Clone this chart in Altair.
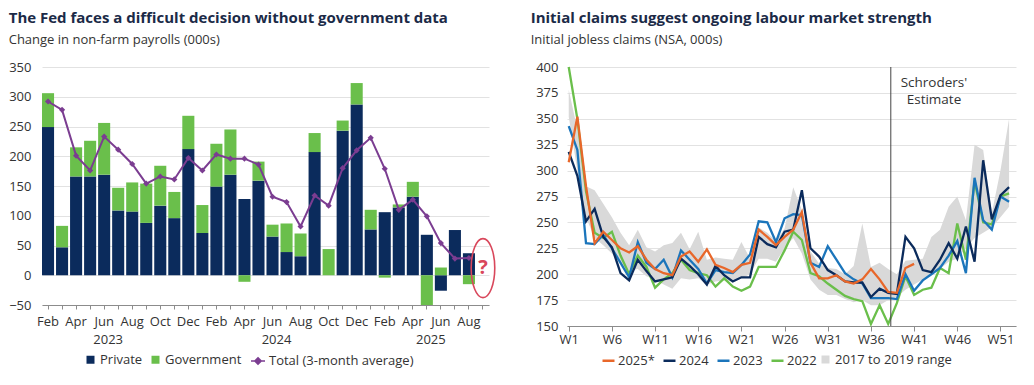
import altair as alt
import pandas as pd

FONT = "Open Sans"
NAVY = "#0b2b5c"
GREEN = "#6abf4b"
PURPLE = "#7b3d91"
RED = "#d9475b"
ORANGE = "#e8672a"
BLUE = "#1b75bb"
RANGE_GREY = "#d9d9d9"
TEXT = "#333333"
TITLE_COLOR = "#1b2a47"

# ---------------- Left panel data ----------------
months = [
    "Feb 2023", "Mar 2023", "Apr 2023", "May 2023", "Jun 2023", "Jul 2023", "Aug 2023",
    "Sep 2023", "Oct 2023", "Nov 2023", "Dec 2023",
    "Jan 2024", "Feb 2024", "Mar 2024", "Apr 2024", "May 2024", "Jun 2024", "Jul 2024",
    "Aug 2024", "Sep 2024", "Oct 2024", "Nov 2024", "Dec 2024",
    "Jan 2025", "Feb 2025", "Mar 2025", "Apr 2025", "May 2025", "Jun 2025", "Jul 2025",
    "Aug 2025",
]
month_domain = months + ["Sep 2025"]

private = [249, 47, 166, 166, 169, 109, 107, 88, 117, 96, 212,
           71, 149, 169, 128, 159, 65, 39, 32, 207, 0, 243, 287,
           77, 106, 114, 132, 68, -26, 76, 37]
government = [57, 36, 49, 60, 87, 38, 49, 66, 67, 44, 56,
              47, 72, 76, -11, 32, 20, 48, 38, 32, 44, 17, 36,
              33, -4, 5, 25, -50, 13, 0, -15]
total_3m = [292, 278, 201, 176, 233, 211, 187, 154, 166, 161, 197,
            176, 203, 196, 196, 186, 132, 123, 82, 134, 117, 180, 210,
            231, 179, 110, 127, 99, 54, 28, 29]

year_labels = ["2023", "2024", "2025"]
year_anchor_months = ["Jun 2023", "Jun 2024", "May 2025"]

question_month = ["Sep 2025"]
question_value = [12]

# ---------------- Right panel data ----------------
weeks = list(range(1, 53))
claims_2025 = [308, 352, 285, 230, 241, 233, 225, 221, 227, 214, 205, 201, 199,
               217, 222, 212, 224, 209, 206, 202, 209, 211, 243, 236, 228, 236,
               243, 260, 211, 196, 196, 199, 193, 191, 195, 205, 195, 183, 182,
               206, 210]
claims_2024 = [318, 295, 251, 263, 236, 226, 201, 194, 214, 203, 193, 195, 197,
               215, 208, 200, 190, 208, 199, 193, 197, 197, 236, 229, 226, 241,
               243, 281, 225, 217, 204, 199, 193, 192, 192, 178, 186, 182, 181,
               236, 225, 204, 202, 214, 230, 215, 246, 212, 310, 253, 276, 284]
claims_2023 = [343, 320, 230, 229, 238, 225, 211, 197, 231, 211, 205, 214, 197,
               223, 214, 205, 191, 204, 202, 201, 209, 219, 251, 250, 231, 254,
               258, 257, 211, 207, 227, 214, 201, 195, 191, 177, 177, 177, 176,
               200, 184, 194, 200, 206, 218, 232, 201, 293, 252, 243, 275, 270]
claims_2022 = [400, 350, 280, 240, 235, 241, 218, 200, 218, 207, 187, 195, 201,
               214, 204, 201, 199, 188, 196, 188, 184, 188, 207, 207, 207, 223,
               241, 233, 201, 198, 191, 185, 179, 176, 174, 152, 170, 152, 172,
               198, 180, 185, 187, 206, 201, 249, 214, 290, 250, 248, 275, 278]
range_low = [352, 300, 255, 235, 228, 220, 210, 203, 205, 198, 195, 190, 186,
             196, 195, 196, 190, 193, 194, 193, 196, 200, 215, 215, 212, 225,
             235, 220, 195, 185, 180, 180, 176, 173, 175, 170, 170, 175, 178,
             185, 190, 195, 200, 205, 212, 215, 225, 235, 240, 245, 255, 265]
range_high = [378, 340, 285, 281, 268, 255, 240, 228, 243, 226, 222, 228, 230,
              240, 224, 241, 214, 216, 215, 214, 231, 215, 245, 240, 232, 244,
              284, 262, 222, 210, 206, 205, 200, 208, 249, 207, 211, 205, 200,
              213, 214, 215, 236, 243, 265, 275, 252, 325, 320, 259, 300, 350]

estimate_week = [38.3]
annot_week = [43.3, 43.3]
annot_value = [385, 368]
annot_text = ["Schroders'", "Estimate"]

# ---------------- Left panel ----------------
bars_df = pd.DataFrame({
    "month": months * 2,
    "series": ["Private"] * len(months) + ["Government"] * len(months),
    "value": private + government,
    "ord": [0] * len(months) + [1] * len(months),
})
line_df = pd.DataFrame({"month": months, "value": total_3m,
                        "series": ["Total (3-month average)"] * len(months)})
q_df = pd.DataFrame({"month": question_month, "value": question_value, "text": ["?"]})
years_df = pd.DataFrame({"month": year_anchor_months, "label": year_labels})

XL = alt.X(
    "month:N",
    scale=alt.Scale(domain=month_domain, paddingInner=0.14, paddingOuter=0),
    axis=alt.Axis(
        title=None, labelAngle=0, grid=False,
        labelExpr="indexof('FebAprJunAugOctDec', slice(datum.value, 0, 3)) >= 0 ? slice(datum.value, 0, 3) : ''",
        domainColor="#8c8c8c", tickColor="#8c8c8c", tickSize=4,
        labelFontSize=13, labelColor=TEXT, labelFont=FONT, labelPadding=6,
    ),
)
YL = alt.Y(
    "value:Q",
    scale=alt.Scale(domain=[-50, 350], nice=False, zero=False),
    axis=alt.Axis(
        title=None, values=list(range(-50, 351, 50)), grid=True, gridColor="#e2e2e2",
        domain=False, ticks=False, labelFontSize=13, labelColor=TEXT, labelFont=FONT,
        labelPadding=11,
    ),
)

LINE_DIAMOND = "M-1,0 L-0.45,0 M0.45,0 L1,0 M0,-0.45 L0.45,0 L0,0.45 L-0.45,0 Z"

bars = alt.Chart(bars_df).mark_bar().encode(
    x=XL, y=YL,
    fill=alt.Fill("series:N",
                  scale=alt.Scale(domain=["Private", "Government"], range=[NAVY, GREEN]),
                  legend=alt.Legend(title=None, symbolType="square", symbolSize=64,
                                    orient="none", direction="horizontal",
                                    legendX=42, legendY=286, columnPadding=6)),
    order=alt.Order("ord:Q", sort="ascending"),
)
line = alt.Chart(line_df).mark_line(strokeWidth=2).encode(
    x=XL, y=YL,
    stroke=alt.Stroke("series:N",
                      scale=alt.Scale(domain=["Total (3-month average)"], range=[PURPLE]),
                      legend=alt.Legend(title=None, symbolType=LINE_DIAMOND,
                                        symbolFillColor=PURPLE, symbolSize=196,
                                        symbolStrokeWidth=1.6,
                                        orient="none", direction="horizontal",
                                        legendX=208, legendY=286)),
)
pts = alt.Chart(line_df).mark_point(shape="diamond", filled=True, size=38,
                                    color=PURPLE, opacity=1).encode(x=XL, y=YL)
ELLIPSE = "M0,-1 A0.4,1 0 1,1 0,1 A0.4,1 0 1,1 0,-1 Z"
ellipse = alt.Chart(q_df).mark_point(shape=ELLIPSE, size=3481, filled=False,
                                     stroke=RED, strokeWidth=1.6, opacity=1).encode(x=XL, y=YL)
qmark = alt.Chart(q_df).mark_text(fontSize=20, fontWeight="bold", color=RED,
                                  font=FONT).encode(x=XL, y=YL, text="text:N")
years = alt.Chart(years_df).mark_text(fontSize=13, color=TEXT, font=FONT, dx=4).encode(
    x=XL, y=alt.value(273), text="label:N")

left = alt.layer(bars, line, pts, ellipse, qmark, years).properties(
    width=447, height=238,
    title=alt.TitleParams(
        text="The Fed faces a difficult decision without government data",
        subtitle="Change in non-farm payrolls (000s)",
        anchor="start", frame="bounds", fontSize=15, fontWeight="bold",
        color=TITLE_COLOR, font=FONT, subtitleFont=FONT, subtitleFontSize=13,
        subtitleColor=TEXT, subtitlePadding=8, offset=14,
    ),
)

# ---------------- Right panel ----------------
def series_rows(name, vals):
    return pd.DataFrame({"week": weeks[:len(vals)], "value": vals, "series": [name] * len(vals)})

claims_df = pd.concat([
    series_rows("2022", claims_2022),
    series_rows("2023", claims_2023),
    series_rows("2024", claims_2024),
    series_rows("2025*", claims_2025),
], ignore_index=True)
range_df = pd.DataFrame({"week": weeks, "lo": range_low, "hi": range_high,
                         "series": ["2017 to 2019 range"] * len(weeks)})
rule_df = pd.DataFrame({"week": estimate_week})
annot_df = pd.DataFrame({"week": annot_week, "value": annot_value, "text": annot_text})

XR = alt.X(
    "week:Q",
    scale=alt.Scale(domain=[0.8, 52.8], nice=False, zero=False),
    axis=alt.Axis(
        title=None, values=list(range(1, 53, 5)), labelExpr="'W' + datum.value",
        grid=False, domainColor="#8c8c8c", tickColor="#8c8c8c", tickSize=5,
        labelFontSize=13, labelColor=TEXT, labelFont=FONT, labelPadding=2,
    ),
)
YR_AXIS = alt.Axis(
    title=None, values=list(range(150, 401, 25)), grid=True, gridColor="#e2e2e2",
    domain=False, ticks=False, labelFontSize=13, labelColor=TEXT, labelFont=FONT,
    labelPadding=9,
)
YR_SCALE = alt.Scale(domain=[150, 400], nice=False, zero=False)
YR = alt.Y("value:Q", scale=YR_SCALE, axis=YR_AXIS)

color_lines = alt.Color(
    "series:N",
    scale=alt.Scale(domain=["2025*", "2024", "2023", "2022"],
                    range=[ORANGE, NAVY, BLUE, GREEN]),
    legend=alt.Legend(title=None, symbolType="stroke", symbolStrokeWidth=2.5,
                      symbolSize=144, labelOffset=2, columnPadding=3,
                      orient="none", direction="horizontal",
                      legendX=34, legendY=286),
)

legend_anchor = alt.Chart(claims_df).transform_filter("false").mark_line().encode(
    x=XR, y=YR, color=color_lines)
band = alt.Chart(range_df).mark_area(opacity=1).encode(
    x=XR,
    y=alt.Y("lo:Q", scale=YR_SCALE, axis=YR_AXIS),
    y2="hi:Q",
    fill=alt.Fill("series:N",
                  scale=alt.Scale(domain=["2017 to 2019 range"], range=[RANGE_GREY]),
                  legend=alt.Legend(title=None, symbolType="square", symbolSize=64,
                                    orient="none", direction="horizontal",
                                    legendX=252, legendY=286)),
)
line_layers = [
    alt.Chart(claims_df).transform_filter(alt.datum.series == s)
    .mark_line(strokeWidth=2.3).encode(x=XR, y=YR, color=color_lines)
    for s in ["2022", "2023", "2024", "2025*"]
]
rule = alt.Chart(rule_df).mark_rule(color="#444444", strokeWidth=1).encode(x=XR)
annot = alt.Chart(annot_df).mark_text(fontSize=13.5, color=TEXT, font=FONT).encode(
    x=XR, y=YR, text="text:N")

right = alt.layer(legend_anchor, band, *line_layers, rule, annot).properties(
    width=449, height=259,
    title=alt.TitleParams(
        text="Initial claims suggest ongoing labour market strength",
        subtitle="Initial jobless claims (NSA, 000s)",
        anchor="start", frame="bounds", fontSize=15, fontWeight="bold",
        color=TITLE_COLOR, font=FONT, subtitleFont=FONT, subtitleFontSize=13,
        subtitleColor=TEXT, subtitlePadding=8, offset=14, dx=-5,
    ),
)

chart = (
    alt.hconcat(left, right, spacing=32)
    .resolve_scale(fill="independent", stroke="independent", color="independent")
    .resolve_legend(fill="independent", stroke="independent", color="independent")
    .properties(padding={"left": 0, "top": 3, "right": 5, "bottom": 0})
    .configure_view(stroke=None)
    .configure_legend(
        labelFont=FONT, labelFontSize=13, labelColor=TEXT, labelOffset=3,
        columnPadding=8, padding=0,
    )
)

chart.save("out.html", embed_options={"renderer": "svg", "actions": False})
